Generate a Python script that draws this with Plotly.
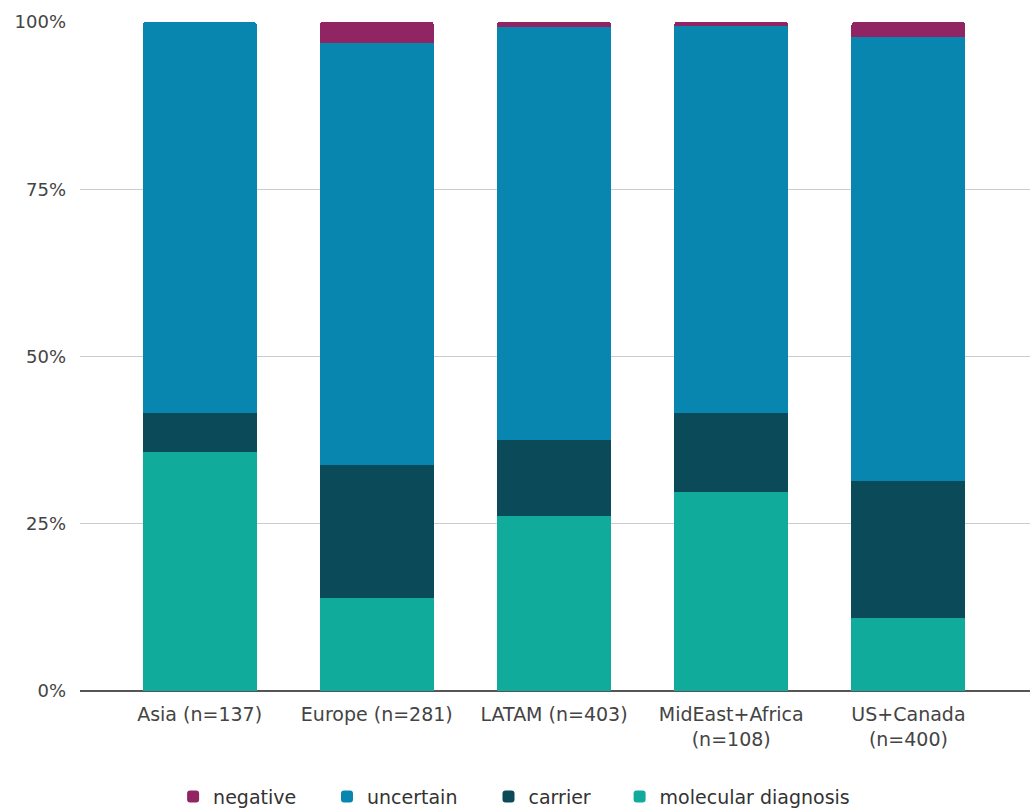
import plotly.graph_objects as go

categories = ["Asia (n=137)", "Europe (n=281)", "LATAM (n=403)",
              "MidEast+Africa<br>(n=108)", "US+Canada<br>(n=400)"]
molecular = [35.8, 13.9, 26.2, 29.7, 10.9]
carrier = [5.7, 19.9, 11.3, 11.8, 20.5]
uncertain = [58.5, 63.0, 61.8, 57.9, 66.4]
negative = [0.0, 3.2, 0.7, 0.6, 2.2]

series = [
    ("molecular diagnosis", molecular, "#10ab9b", "legend4", 0.568),
    ("carrier", carrier, "#0a4a59", "legend3", 0.430),
    ("uncertain", uncertain, "#0986b0", "legend2", 0.260),
    ("negative", negative, "#912462", "legend", 0.098),
]

fig = go.Figure()
legend_layout = {}
for name, vals, col, leg, lx in series:
    fig.add_trace(go.Bar(x=categories, y=vals, name=name, legend=leg,
                         marker=dict(color=col, line=dict(width=0))))
    legend_layout[leg] = dict(orientation="h", x=lx, xanchor="left",
                              y=-0.158, yanchor="middle",
                              bgcolor="rgba(0,0,0,0)",
                              font=dict(size=19, color="#333333"))

font = "DejaVu Sans, Arial, sans-serif"
fig.update_layout(
    barmode="stack",
    bargap=0.357,
    barcornerradius=3,
    width=1030, height=812,
    margin=dict(l=80, r=0, t=22, b=121, autoexpand=False),
    paper_bgcolor="white", plot_bgcolor="white",
    font=dict(family=font, size=19, color="#444444"),
    showlegend=True,
    **legend_layout,
)
fig.update_xaxes(range=[-0.675, 4.686], showgrid=False,
                 showline=False, ticks="", ticklabelstandoff=10,
                 tickfont=dict(size=19, color="#444444"))
fig.update_yaxes(range=[0, 100], tickvals=[0, 25, 50, 75, 100],
                 ticktext=["0%", "25%", "50%", "75%", "100%"],
                 showgrid=True, gridcolor="#cccccc", gridwidth=1,
                 zeroline=True, zerolinecolor="#555555", zerolinewidth=2,
                 showline=False, ticklabelstandoff=13,
                 tickfont=dict(size=18, color="#444444"))

fig.write_html("out.html")
